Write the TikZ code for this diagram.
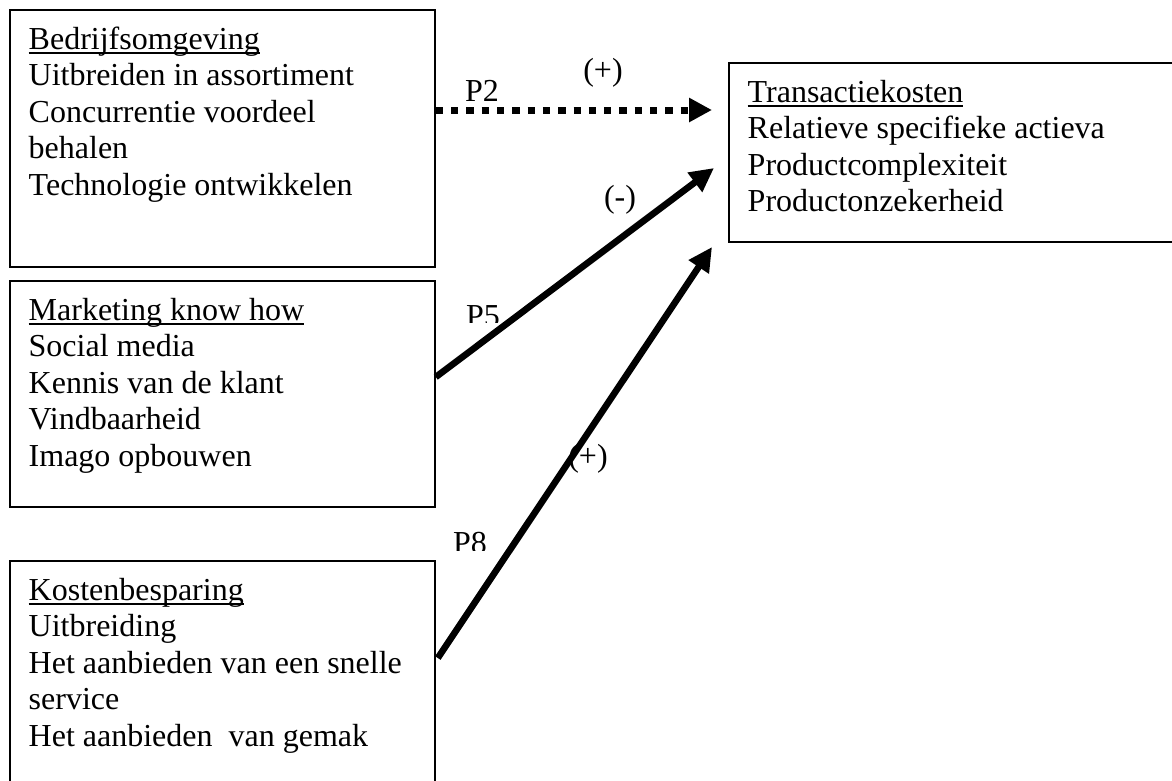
\documentclass[tikz,border=0pt]{standalone}
\usepackage{fontspec}
\setmainfont{Liberation Serif}
\usetikzlibrary{arrows.meta,calc}
% underline that sits just below the baseline and crosses descenders
\newcommand\hdline[1]{\setbox0\hbox{#1}\rlap{\rule[-5pt]{\wd0}{2pt}}\box0}
\begin{document}
\begin{tikzpicture}[x=1pt,y=-1pt,
  box/.style={draw, line width=1.8pt, rectangle, inner sep=0pt, anchor=north west},
  txt/.style={inner sep=0pt, anchor=north west, align=left, font=\fontsize{32}{36.5}\selectfont},
  lbl/.style={inner sep=0pt, anchor=base, font=\fontsize{32}{36.5}\selectfont},
  solidarrow/.style={line width=6.6pt, -{Triangle[length=24pt,width=23pt]}},
  dotarrow/.style={line width=7pt, dash pattern=on 7.3pt off 8pt, -{Triangle[length=23pt,width=23pt]}}]
\clip (0,0) rectangle (1172,780);

% boxes
\node[box, minimum width=425pt, minimum height=257pt] (b1) at (9,9) {};
\node[box, minimum width=425pt, minimum height=226pt] (b2) at (9,280) {};
\node[box, minimum width=425pt, minimum height=250pt] (b3) at (9,560) {};
\node[box, minimum width=480pt, minimum height=179pt] (tk) at (728,62) {};

% box contents
\node[txt] (t1) at (28.5,23.45) {\strut\hdline{Bedrijfsomgeving}\\Uitbreiden in assortiment\\Concurrentie voordeel\\behalen\\Technologie ontwikkelen};
\node[txt] (t2) at (28.5,294.45) {\strut\hdline{Marketing know how}\\Social media\\Kennis van de klant\\Vindbaarheid\\Imago opbouwen};
\node[txt] (t3) at (28.5,574.45) {\strut\hdline{Kostenbesparing}\\Uitbreiding\\Het aanbieden van een snelle\\service\\Het aanbieden~ van gemak};
\node[txt] (t4) at (747.5,76.45) {\strut\hdline{Transactiekosten}\\Relatieve specifieke actieva\\Productcomplexiteit\\Productonzekerheid};

% connector labels
\node[lbl] (lp2s) at (603,80) {(+)};
\node[lbl, anchor=base west] (lp2) at (465,101) {P2};
\node[lbl] (lp5s) at (620,207) {(-)};
\begin{scope}
  \clip (440,280) rectangle (530,322);
  \node[lbl, anchor=base west] (lp5) at (466,326) {P5};
\end{scope}
\begin{scope}
  \clip (430,500) rectangle (520,550);
  \node[lbl, anchor=base west] (lp8) at (453,553) {P8};
\end{scope}
\node[lbl] (lp8s) at (588,466) {(+)};

% connectors
\coordinate (s2) at ($(b1.north east)+(0,101)$);
\coordinate (e2) at ($(tk.north west)+(-16,48)$);
\coordinate (s5) at ($(b2.north east)+(0,97)$);
\coordinate (e5) at ($(tk.north west)+(-14,106)$);
\coordinate (s8) at ($(b3.north east)+(2,98)$);
\coordinate (e8) at ($(tk.north west)+(-16,185)$);
\draw[dotarrow] (s2) -- (e2);
\draw[solidarrow] (s5) -- (e5);
\draw[solidarrow] (s8) -- (e8);
\end{tikzpicture}
\end{document}
